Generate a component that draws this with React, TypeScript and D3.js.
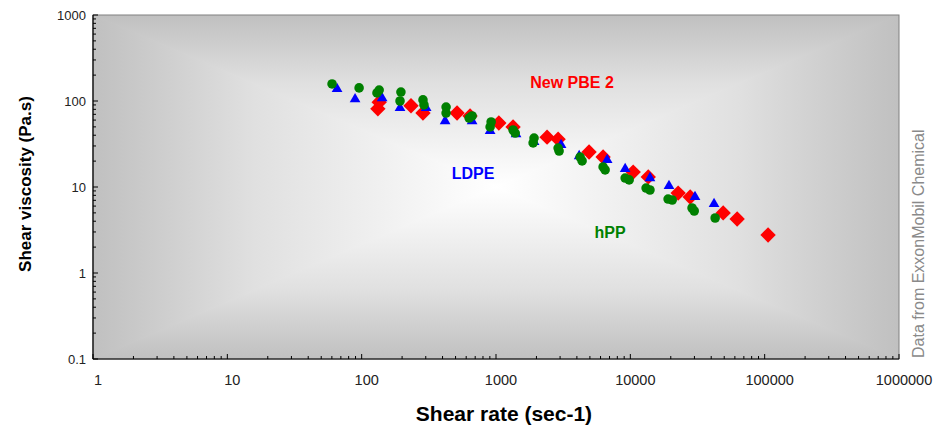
import React from 'react';
import * as d3 from 'd3';

const xTickLabels = ['1', '10', '100', '1000', '10000', '100000', '1000000'];
const yTickLabels = ['0.1', '1', '10', '100', '1000'];

const pbeRate = [135, 132, 233, 286, 513, 641, 1050, 1340, 2400, 2900, 4930, 6270, 10500, 13600, 22700, 27900, 49100, 62400, 106000];
const pbeVisc = [97, 81, 88, 72.5, 72.5, 67, 55.5, 50, 38, 36, 25.5, 22.3, 14.9, 13.1, 8.5, 7.65, 5.0, 4.25, 2.77];

const ldpeRate = [65.6, 89.3, 142, 193, 302, 418, 664, 904, 1410, 1920, 3050, 4160, 6720, 9150, 14000, 19400, 30300, 42000];
const ldpeVisc = [138, 105, 108, 83, 83, 58.5, 58.5, 44.8, 41.3, 33.4, 30.8, 22.9, 20.6, 16.2, 12.7, 10.3, 7.65, 6.34];

const hppRate = [60.2, 95.7, 130, 135, 196, 193, 286, 291, 425, 425, 631, 664, 920, 904, 1340, 1390, 1920, 1890, 2900, 2950, 4230, 4375, 6270, 6490, 9150, 9800, 13100, 14000, 19100, 20500, 28800, 29900, 42800];
const hppVisc = [158, 142, 124, 134, 127, 100, 103, 90, 85, 72.5, 63.4, 67, 57, 50, 46, 42.4, 37.1, 32.5, 28.4, 26.2, 22.3, 20.1, 17.1, 15.8, 12.7, 12.1, 9.73, 9.23, 7.25, 7.06, 5.7, 5.26, 4.36];

const seriesNames = ['New PBE 2', 'LDPE', 'hPP'];
const creditText = 'Data from ExxonMobil Chemical';
const xTitle = 'Shear rate (sec-1)';
const yTitle = 'Shear viscosity (Pa.s)';

export default function App() {
  const W = 941, H = 428;
  const L = 93, R = 899, T = 15, B = 359;
  const cx = (L + R) / 2, cy = (T + B) / 2;
  const x = d3.scaleLog().domain([1, 1e6]).range([L, R]);
  const y = d3.scaleLog().domain([0.1, 1000]).range([B, T]);
  const font = '"Liberation Sans", Arial, sans-serif';

  const xMinor: number[] = [];
  for (let d = 0; d < 6; d++) for (let m = 2; m <= 9; m++) xMinor.push(m * Math.pow(10, d));
  const yMinor: number[] = [];
  for (let d = -1; d < 3; d++) for (let m = 2; m <= 9; m++) yMinor.push(m * Math.pow(10, d));
  const xMajor = xTickLabels.map(Number);
  const yMajor = yTickLabels.map(Number);

  const tri = d3.symbol(d3.symbolTriangle, 50)()!;
  const circ = d3.symbol(d3.symbolCircle, 72)()!;
  const sq = d3.symbol(d3.symbolSquare, 118)()!;

  const stops = (
    <>
      <stop offset="0" stopColor="#c0c0c0" />
      <stop offset="0.4" stopColor="#e0e0e0" />
      <stop offset="1" stopColor="#ffffff" />
    </>
  );

  const tris = [
    { id: 'gTop', pts: `${L},${T} ${R},${T} ${cx},${cy}` },
    { id: 'gBot', pts: `${L},${B} ${R},${B} ${cx},${cy}` },
    { id: 'gLeft', pts: `${L},${T} ${L},${B} ${cx},${cy}` },
    { id: 'gRight', pts: `${R},${T} ${R},${B} ${cx},${cy}` },
  ];

  return (
    <svg width={W} height={H} style={{ position: 'absolute', left: 0, top: 0 }} fontFamily={font}>
      <defs>
        <linearGradient id="gTop" gradientUnits="userSpaceOnUse" x1={cx} y1={T} x2={cx} y2={cy}>{stops}</linearGradient>
        <linearGradient id="gBot" gradientUnits="userSpaceOnUse" x1={cx} y1={B} x2={cx} y2={cy}>{stops}</linearGradient>
        <linearGradient id="gLeft" gradientUnits="userSpaceOnUse" x1={L} y1={cy} x2={cx} y2={cy}>{stops}</linearGradient>
        <linearGradient id="gRight" gradientUnits="userSpaceOnUse" x1={R} y1={cy} x2={cx} y2={cy}>{stops}</linearGradient>
        <clipPath id="plotClip"><rect x={L} y={T} width={R - L} height={B - T} /></clipPath>
      </defs>
      <rect x={0} y={0} width={W} height={H} fill="#ffffff" />
      <g clipPath="url(#plotClip)">
        {tris.map((t) => (
          <polygon key={t.id} points={t.pts} fill={`url(#${t.id})`} stroke={`url(#${t.id})`} strokeWidth={1.2} strokeLinejoin="round" />
        ))}
      </g>
      <rect x={L} y={T} width={R - L} height={B - T} fill="none" stroke="#808080" strokeWidth={1} />
      <line x1={L} y1={T} x2={L} y2={B} stroke="#000" strokeWidth={1.2} />
      <line x1={L} y1={B} x2={R} y2={B} stroke="#000" strokeWidth={1.2} />

      {xMinor.map((v, i) => (
        <line key={'xm' + i} x1={x(v)} x2={x(v)} y1={B} y2={B - 3} stroke="#000" strokeWidth={1} />
      ))}
      {xMajor.map((v, i) => (
        <line key={'xM' + i} x1={x(v)} x2={x(v)} y1={B} y2={B - 5} stroke="#000" strokeWidth={1} />
      ))}
      {yMinor.map((v, i) => (
        <line key={'ym' + i} x1={L} x2={L + 3} y1={y(v)} y2={y(v)} stroke="#000" strokeWidth={1} />
      ))}
      {yMajor.map((v, i) => (
        <line key={'yM' + i} x1={L} x2={L + 5} y1={y(v)} y2={y(v)} stroke="#000" strokeWidth={1} />
      ))}

      {xTickLabels.map((t, i) => (
        <text key={'xl' + i} x={x(xMajor[i]) + 5} y={385} fontSize={14.5} textAnchor="middle" fill="#222">{t}</text>
      ))}
      {yTickLabels.map((t, i) => (
        <text key={'yl' + i} x={86} y={y(yMajor[i]) + 5} fontSize={13} textAnchor="end" fill="#222">{t}</text>
      ))}

      <text x={504} y={421} fontSize={21} fontWeight="bold" textAnchor="middle" fill="#000">{xTitle}</text>
      <text transform={`translate(31,${cy - 3}) rotate(-90)`} fontSize={17} fontWeight="bold" textAnchor="middle" fill="#000">{yTitle}</text>
      <text transform={`translate(924,${B - 1}) rotate(-90)`} fontSize={16} textAnchor="start" fill="#8a8a8a">{creditText}</text>

      {pbeRate.map((v, i) => (
        <path key={'p' + i} d={sq} transform={`translate(${x(v)},${y(pbeVisc[i])}) rotate(45)`} fill="#ff0000" />
      ))}
      {ldpeRate.map((v, i) => (
        <path key={'l' + i} d={tri} transform={`translate(${x(v)},${y(ldpeVisc[i])})`} fill="#0000ff" />
      ))}
      {hppRate.map((v, i) => (
        <path key={'h' + i} d={circ} transform={`translate(${x(v)},${y(hppVisc[i])})`} fill="#008000" />
      ))}

      <text x={572} y={88} fontSize={16} fontWeight="bold" textAnchor="middle" fill="#ff0000">{seriesNames[0]}</text>
      <text x={473} y={179} fontSize={16} fontWeight="bold" textAnchor="middle" fill="#0000ff">{seriesNames[1]}</text>
      <text x={610} y={238} fontSize={16} fontWeight="bold" textAnchor="middle" fill="#008000">{seriesNames[2]}</text>
    </svg>
  );
}
